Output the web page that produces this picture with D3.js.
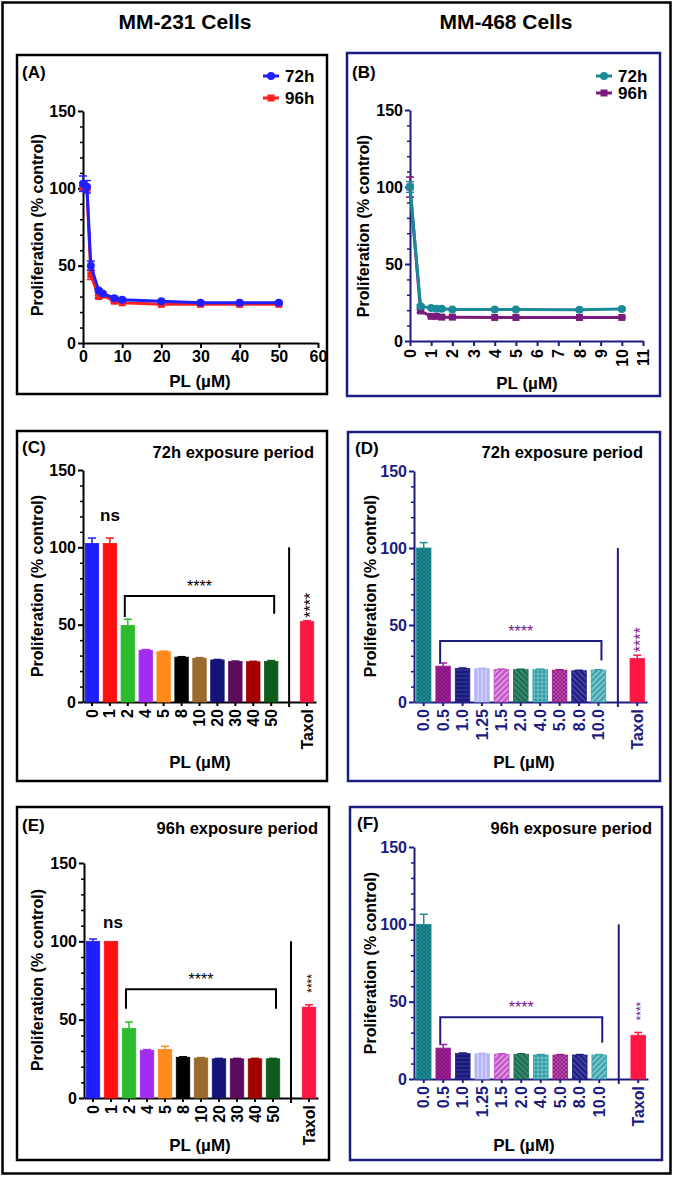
<!DOCTYPE html>
<html><head><meta charset="utf-8">
<script src="https://cdn.jsdelivr.net/npm/d3@7"></script>
<style>body{margin:0;background:#fff}svg{display:block}</style>
</head><body><svg id="c" width="675" height="1177"></svg>
<script>
// ---------------- DATA ----------------
const plA = [0,1,2,4,5,8,10,20,30,40,50];
const a72 = [103,101,50,34,32,29,28,27,26,26,26];
const a72Err = [5,4,3,1,1,1,1,0.5,0.5,0.5,0.5];
const a96 = [100,100,44,30,31,27,26,25,25,25,25];
const a96Err = [1,1,3,1,1,0.5,0.5,0.5,0.5,0.5,0.5];

const plB = [0,0.5,1,1.25,1.5,2,4,5,8,10];
const b72 = [100,22.5,21.5,21,21,20.5,20.5,20.5,20.3,20.7];
const b72Err = [3.5,1,0.5,0.5,0.5,0.5,0.5,0.5,0.5,0.5];
const b96 = [100,19.5,16,16,15.5,15.5,15.3,15.3,15.3,15.3];
const b96Err = [6.5,1,0.5,0.5,0.5,0.5,0.5,0.5,0.5,0.5];

const catC = ["0","1","2","4","5","8","10","20","30","40","50"];
const c72 = [102.5,102.5,49.5,33.5,32.5,29,28.3,27.2,26.2,26,26.2];
const c72Err = [3.5,3.5,4,0.4,0.4,0.3,0.4,0.3,0.3,0.3,0.6];
const c72Taxol = [52, 0.6];
const e96 = [100,100,44.5,30.5,31,26,25.5,25,25,25,25];
const e96Err = [1.5,0,4,0.4,2,0.3,0.3,0.3,0.3,0.3,0.3];
const e96Taxol = [58, 1.5];

const catD = ["0.0","0.5","1.0","1.25","1.5","2.0","4.0","5.0","8.0","10.0"];
const d72 = [100,23.3,21.8,21.6,21.1,21,21,20.7,20.3,20.7];
const d72Err = [3.5,2,0.3,0.3,0.3,0.3,0.3,0.3,0.3,0.3];
const d72Taxol = [28.2, 2.2];
const f96 = [100,20,16.5,16.3,16,16,15.5,15.5,15.5,15.5];
const f96Err = [6.5,2.3,0.3,0.3,0.3,0.3,0.3,0.3,0.3,0.3];
const f96Taxol = [28.3, 1.8];

// brackets: [fromCat, toCat, topValue, leftEnd, rightEnd]
const bracketC = ["2","50",68.5,55,57];
const bracketE = ["2","50",69.4,57,57];
const bracketD = ["0.5","10.0",39.6,25,27];
const bracketF = ["0.5","10.0",40,22.5,23.5];

const yTicks = [0,50,100,150];
const yMinor = [10,20,30,40,60,70,80,90,110,120,130,140];
const xTicksA = [0,10,20,30,40,50,60];
const xTicksB = [0,1,2,3,4,5,6,7,8,9,10,11];

// ---------------- STYLES ----------------
const FONT = '"Liberation Sans", Arial, Helvetica, sans-serif';
const NAVY = "#1c1c80";
const colorsC = ["#1f1fff","#ff1010","#2dbb2d","#a22cf0","#ff8a1c","#000000","#9b6a30","#13137a","#5c0c5c","#a30000","#0f5c1c"];
const TAXOL = "#ff1744";
const patD = [
 {base:"#1e8e98", line:"#0e6068", kind:"cross"},
 {base:"#a3219b", line:"#6e0f68", kind:"cross"},
 {base:"#1a1a7a", line:"#3c3caa", kind:"h"},
 {base:"#b3b5f7", line:"#e6e6ff", kind:"v"},
 {base:"#c24fc6", line:"#f2caf2", kind:"diag"},
 {base:"#1b6b52", line:"#4f9c84", kind:"diag2"},
 {base:"#2a9aa3", line:"#93d2d6", kind:"grid"},
 {base:"#951e8a", line:"#c662b6", kind:"cross"},
 {base:"#1c1c80", line:"#5c5cb4", kind:"diag2"},
 {base:"#3aa2aa", line:"#a8dcdf", kind:"diag"}
];
const TICKFS = 16, LABFS = 16;

const svg = d3.select("#c");
svg.append("rect").attr("width",675).attr("height",1177).attr("fill","#fff");
const defs = svg.append("defs");

function pat(id, p){
  const s = 4;
  const g = defs.append("pattern").attr("id",id).attr("patternUnits","userSpaceOnUse").attr("width",s).attr("height",s);
  if (p.kind==="diag") g.attr("patternTransform","rotate(45)");
  if (p.kind==="diag2") g.attr("patternTransform","rotate(-45)");
  g.append("rect").attr("width",s).attr("height",s).attr("fill",p.base);
  const ln = (x1,y1,x2,y2,w)=>g.append("line").attr("x1",x1).attr("y1",y1).attr("x2",x2).attr("y2",y2).attr("stroke",p.line).attr("stroke-width",w);
  if (p.kind==="cross"){ ln(0,0,4,4,0.7); ln(4,0,0,4,0.7); }
  else if (p.kind==="h"){ ln(0,2,4,2,1); }
  else if (p.kind==="v"){ ln(2,0,2,4,1); }
  else if (p.kind==="diag"||p.kind==="diag2"){ ln(2,0,2,4,1.2); }
  else if (p.kind==="grid"){ ln(0,2,4,2,0.8); ln(2,0,2,4,0.8); }
}
patD.forEach((p,i)=>pat("pd"+i,p));

function txt(x,y,s,o={}){
  const t = svg.append("text").attr("x",x).attr("y",y).text(s)
    .style("font-family",FONT).style("font-size",(o.size||14)+"px")
    .style("font-weight",o.weight||"bold").attr("fill",o.fill||"#000")
    .attr("text-anchor",o.anchor||"start");
  if (o.rot) t.attr("transform",`rotate(${o.rot},${x},${y})`);
  return t;
}
function box(x0,y0,x1,y1,c){
  svg.append("rect").attr("x",x0).attr("y",y0).attr("width",x1-x0).attr("height",y1-y0)
    .attr("fill","none").attr("stroke",c).attr("stroke-width",2.5);
}
function yAxis(y, x, color, lab){
  const g = svg.append("g").attr("transform",`translate(${x},0)`)
    .call(d3.axisLeft(y).tickValues(yTicks).tickSize(5).tickSizeOuter(0).tickPadding(2));
  g.select(".domain").attr("stroke",color).attr("stroke-width",2);
  g.selectAll(".tick line").attr("stroke",color).attr("stroke-width",2);
  g.selectAll(".tick text").attr("fill",lab).style("font",`bold ${TICKFS}px ${FONT}`);
  const m = svg.append("g").attr("transform",`translate(${x},0)`)
    .call(d3.axisLeft(y).tickValues(yMinor).tickSize(3).tickFormat(""));
  m.select(".domain").remove();
  m.selectAll(".tick line").attr("stroke",color).attr("stroke-width",1.5);
}
function ylabel(x, yc){
  txt(x, yc, "Proliferation (% control)", {anchor:"middle", rot:-90, size:LABFS});
}

// ---------------- FRAME & TITLES ----------------
svg.append("rect").attr("x",2.5).attr("y",2.5).attr("width",668).attr("height",1171)
  .attr("fill","none").attr("stroke","#000").attr("stroke-width",2.5);
txt(185,29,"MM-231 Cells",{anchor:"middle",size:21});
txt(506,29,"MM-468 Cells",{anchor:"middle",size:21});

// ---------------- LINE CHARTS ----------------
function lineChart(cfg){
  const x = d3.scaleLinear().domain(cfg.xdom).range(cfg.xr);
  const y = d3.scaleLinear().domain([0,150]).range(cfg.yr);
  const xa = svg.append("g").attr("transform",`translate(0,${cfg.yr[0]})`)
    .call(d3.axisBottom(x).tickValues(cfg.xticks).tickSize(5).tickSizeOuter(0).tickPadding(3));
  xa.select(".domain").attr("stroke",cfg.axis).attr("stroke-width",2);
  xa.selectAll(".tick line").attr("stroke",cfg.axis).attr("stroke-width",2);
  xa.selectAll(".tick text").attr("fill","#000").style("font",`bold ${TICKFS}px ${FONT}`);
  if (cfg.rotX){
    xa.selectAll(".tick text").attr("transform","rotate(-90)").attr("x",-8).attr("y",0)
      .attr("dy","0.35em").attr("text-anchor","end");
  }
  yAxis(y, cfg.xr[0], cfg.axis, "#000");
  cfg.series.forEach(s=>{
    const g = svg.append("g");
    s.xs.forEach((xv,i)=>{
      const e = s.err[i]; if (!e) return;
      const cx = x(xv);
      g.append("line").attr("x1",cx).attr("x2",cx).attr("y1",y(s.ys[i]-e)).attr("y2",y(s.ys[i]+e)).attr("stroke",s.color).attr("stroke-width",1.5);
      [s.ys[i]-e, s.ys[i]+e].forEach(v=>g.append("line").attr("x1",cx-4).attr("x2",cx+4).attr("y1",y(v)).attr("y2",y(v)).attr("stroke",s.color).attr("stroke-width",1.5));
    });
    g.append("path").attr("d",d3.line().x((d,i)=>x(s.xs[i])).y(d=>y(d))(s.ys))
      .attr("fill","none").attr("stroke",s.color).attr("stroke-width",3).attr("stroke-linejoin","round");
    s.xs.forEach((xv,i)=>{
      if (s.marker==="circle") g.append("circle").attr("cx",x(xv)).attr("cy",y(s.ys[i])).attr("r",4).attr("fill",s.color);
      else g.append("rect").attr("x",x(xv)-3.5).attr("y",y(s.ys[i])-3.5).attr("width",7).attr("height",7).attr("fill",s.color);
    });
  });
  cfg.legend.forEach(l=>{
    svg.append("line").attr("x1",l.x).attr("x2",l.x+16).attr("y1",l.y).attr("y2",l.y).attr("stroke",l.color).attr("stroke-width",3);
    if (l.marker==="circle") svg.append("circle").attr("cx",l.x+8).attr("cy",l.y).attr("r",4).attr("fill",l.color);
    else svg.append("rect").attr("x",l.x+4.5).attr("y",l.y-3.5).attr("width",7).attr("height",7).attr("fill",l.color);
    txt(l.x+22, l.y+6, l.label, {size:17});
  });
}

// Panel A
box(17,55,327,394,"#000");
txt(22,78,"(A)",{size:17});
lineChart({xdom:[0,60], xr:[83,318], yr:[343,111], xticks:xTicksA, axis:"#000", rotX:false,
  series:[
    {xs:plA, ys:a96, err:a96Err, color:"#ff1f1f", marker:"square"},
    {xs:plA, ys:a72, err:a72Err, color:"#1f1fff", marker:"circle"}
  ],
  legend:[{x:263,y:76,color:"#1f1fff",marker:"circle",label:"72h"},{x:263,y:98,color:"#ff1f1f",marker:"square",label:"96h"}]
});
ylabel(43,225);
txt(200,387,"PL (\u00b5M)",{anchor:"middle",size:17});

// Panel B
box(347,53,660,396,NAVY);
txt(352,78,"(B)",{size:17});
lineChart({xdom:[0,11], xr:[410,643], yr:[341,110], xticks:xTicksB, axis:NAVY, rotX:true,
  series:[
    {xs:plB, ys:b96, err:b96Err, color:"#7b1a7d", marker:"square"},
    {xs:plB, ys:b72, err:b72Err, color:"#1b8a97", marker:"circle"}
  ],
  legend:[{x:596,y:76,color:"#1b8a97",marker:"circle",label:"72h"},{x:596,y:93,color:"#7b1a7d",marker:"square",label:"96h"}]
});
ylabel(369,226);
txt(527,389,"PL (\u00b5M)",{anchor:"middle",size:17});

// ---------------- BAR CHARTS ----------------
function barChart(cfg){
  const slots = cfg.cats.concat(["__gap","Taxol"]);
  const x = d3.scaleBand().domain(slots).range(cfg.xr).paddingInner(0.25).paddingOuter(0.125);
  const y = d3.scaleLinear().domain([0,150]).range(cfg.yr);
  const bw = x.bandwidth();
  const cx = c=>x(c)+bw/2;
  const y0 = cfg.yr[0];
  const xa = svg.append("g").attr("transform",`translate(0,${y0})`)
    .call(d3.axisBottom(x).tickValues(cfg.cats.concat(["Taxol"])).tickSize(4).tickSizeOuter(0));
  xa.select(".domain").attr("stroke",cfg.axis).attr("stroke-width",2);
  xa.selectAll(".tick line").attr("stroke",cfg.axis).attr("stroke-width",2);
  xa.selectAll(".tick text").attr("fill",cfg.lab).style("font",`bold ${TICKFS}px ${FONT}`)
    .attr("transform","rotate(-90)").attr("x",-7).attr("y",0).attr("dy","0.35em").attr("text-anchor","end");
  yAxis(y, cfg.xr[0], cfg.axis, cfg.lab);
  const vals = cfg.vals.concat([cfg.taxol[0]]);
  const errs = cfg.errs.concat([cfg.taxol[1]]);
  const cats = cfg.cats.concat(["Taxol"]);
  const fills = cfg.fills.concat([TAXOL]);
  const strokes = cfg.strokes.concat([TAXOL]);
  cats.forEach((c,i)=>{
    const e = errs[i], v = vals[i];
    if (e>0){
      svg.append("line").attr("x1",cx(c)).attr("x2",cx(c)).attr("y1",y(v)).attr("y2",y(v+e)).attr("stroke",strokes[i]).attr("stroke-width",1.5);
      svg.append("line").attr("x1",cx(c)-4).attr("x2",cx(c)+4).attr("y1",y(v+e)).attr("y2",y(v+e)).attr("stroke",strokes[i]).attr("stroke-width",1.5);
    }
    svg.append("rect").attr("x",x(c)).attr("y",y(v)).attr("width",bw).attr("height",y0-y(v))
      .attr("fill",fills[i]).attr("stroke",strokes[i]).attr("stroke-width",0.8);
  });
  svg.append("line").attr("x1",cx("__gap")).attr("x2",cx("__gap")).attr("y1",y(100)).attr("y2",y0+5)
    .attr("stroke",cfg.axis).attr("stroke-width",2);
  const b = cfg.bracket;
  const bl = cx(b[0])-3, br = cx(b[1])+3;
  svg.append("path").attr("d",`M${bl},${y(b[3])}V${y(b[2])}H${br}V${y(b[4])}`)
    .attr("fill","none").attr("stroke",cfg.axis).attr("stroke-width",2);
  txt((bl+br)/2, y(b[2])-4, "****", {anchor:"middle", weight:"normal", size:16, fill:cfg.star});
  const tv = cfg.taxol[0]+cfg.taxol[1];
  txt(cx("Taxol")+cfg.tstar*0.55, y(tv)-cfg.tgap, "****", {anchor:"start", weight:"normal", size:cfg.tstar, fill:cfg.star, rot:-90});
  return {x,y,cx};
}

// Panel C
box(17,431,327,781,"#000");
txt(22,453,"(C)",{size:17});
txt(314,458,"72h exposure period",{anchor:"end",size:16.5});
barChart({cats:catC, vals:c72, errs:c72Err, taxol:c72Taxol, xr:[83,316], yr:[702,470],
  fills:colorsC, strokes:colorsC, axis:"#000", lab:"#000", star:"#000", tstar:16, tgap:3, bracket:bracketC});
txt(110,521,"ns",{anchor:"middle",size:17});
ylabel(43,586);
txt(200,768,"PL (\u00b5M)",{anchor:"middle",size:17});

// Panel D
box(348,432,660,781,NAVY);
txt(355,454,"(D)",{size:17});
txt(643,458,"72h exposure period",{anchor:"end",size:16.5});
barChart({cats:catD, vals:d72, errs:d72Err, taxol:d72Taxol, xr:[414,647], yr:[702,471],
  fills:patD.map((p,i)=>`url(#pd${i})`), strokes:patD.map(p=>p.base), axis:NAVY, lab:NAVY, star:"#7a2090", tstar:16, tgap:3, bracket:bracketD});
ylabel(376,586);
txt(524,768,"PL (\u00b5M)",{anchor:"middle",size:17});

// Panel E
box(17,807,329,1160,"#000");
txt(22,831,"(E)",{size:17});
txt(318,834,"96h exposure period",{anchor:"end",size:16.5});
barChart({cats:catC, vals:e96, errs:e96Err, taxol:e96Taxol, xr:[84,318], yr:[1098,863],
  fills:colorsC, strokes:colorsC, axis:"#000", lab:"#000", star:"#000", tstar:12, tgap:12, bracket:bracketE});
txt(113,928,"ns",{anchor:"middle",size:17});
ylabel(43,980);
txt(200,1151,"PL (\u00b5M)",{anchor:"middle",size:17});

// Panel F
box(350,807,662,1160,NAVY);
txt(357,829,"(F)",{size:17});
txt(652,834,"96h exposure period",{anchor:"end",size:16.5});
barChart({cats:catD, vals:f96, errs:f96Err, taxol:f96Taxol, xr:[414,648], yr:[1079,847],
  fills:patD.map((p,i)=>`url(#pd${i})`), strokes:patD.map(p=>p.base), axis:NAVY, lab:NAVY, star:"#7a2090", tstar:12, tgap:12, bracket:bracketF});
ylabel(376,963);
txt(524,1151,"PL (\u00b5M)",{anchor:"middle",size:17});
</script></body></html>
